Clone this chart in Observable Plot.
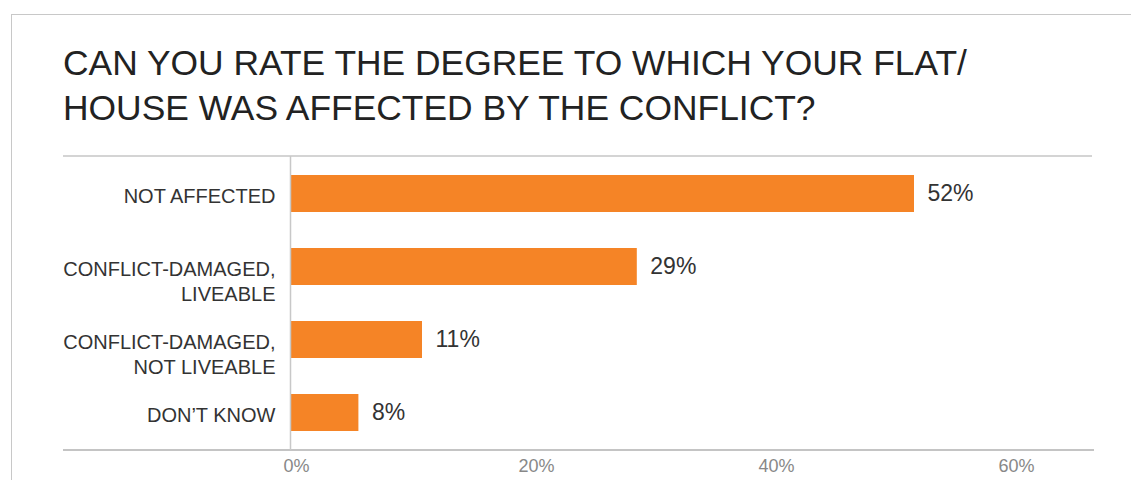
<!DOCTYPE html>
<html>
<head>
<meta charset="utf-8">
<script src="https://cdn.jsdelivr.net/npm/d3@7"></script>
<script src="https://cdn.jsdelivr.net/npm/@observablehq/plot@0.6"></script>
<style>
  html, body { margin: 0; padding: 0; background: #fff; width: 1131px; height: 480px; overflow: hidden; }
  body { position: relative; font-family: "Liberation Sans", Arial, sans-serif; }
  #frame { position: absolute; left: 11px; top: 14px; right: -10px; bottom: -10px; border-left: 1.5px solid #c8c8c8; border-top: 1.5px solid #c8c8c8; }
  #title { position: absolute; left: 63px; top: 41px; font-size: 35.4px; line-height: 45px; color: #222; font-weight: 300; margin: 0; white-space: nowrap; }
  .hr { position: absolute; height: 0; border-top: 2px solid #d4d4d4; }
  #chart { position: absolute; left: 0; top: 140px; }
</style>
</head>
<body>
<div id="frame"></div>
<h1 id="title">CAN YOU RATE THE DEGREE TO WHICH YOUR FLAT/<br>HOUSE WAS AFFECTED BY THE CONFLICT?</h1>
<div class="hr" style="left:63px; width:1029px; top:155px;"></div>
<div class="hr" style="left:63px; width:1031px; top:449px; border-top-color:#c4c4c4;"></div>
<div id="chart"></div>
<script>
const categories = ["NOT AFFECTED", "CONFLICT-DAMAGED,\nLIVEABLE", "CONFLICT-DAMAGED,\nNOT LIVEABLE", "DON\u2019T KNOW"];
const values = [52, 28.9, 11, 5.7];
const valueLabels = ["52%", "29%", "11%", "8%"];
const xTicks = [0, 20, 40, 60];

const data = categories.map((c, i) => ({cat: c, value: values[i], label: valueLabels[i]}));
const font = "'Liberation Sans', Arial, sans-serif";

const chart = Plot.plot({
  width: 1131,
  height: 340,
  marginLeft: 290,
  marginRight: 40,
  marginTop: 16,
  marginBottom: 30,
  style: {fontFamily: font, background: "transparent", overflow: "visible"},
  x: {domain: [0, 66.75]},
  y: {domain: categories, paddingInner: 0.5, paddingOuter: 0.25, axis: null},
  marks: [
    Plot.barX(data, {x: "value", y: "cat", fill: "#f58426"}),
    Plot.ruleX([0], {stroke: "#c8c8c8", strokeWidth: 1.5}),
    Plot.text(data, {x: 0, y: "cat", text: "cat", textAnchor: "end", dx: -15, dy: -9, lineAnchor: "top", lineHeight: 1.25, fontSize: 20, fill: "#333"}),
    Plot.text(data, {x: "value", y: "cat", text: "label", textAnchor: "start", dx: 13, fontSize: 23, fill: "#333"}),
    Plot.axisX(xTicks, {tickSize: 0, tickPadding: 9, tickFormat: d => d + "%", fill: "#888", fontSize: 18, dx: 6, label: null})
  ]
});
document.getElementById("chart").appendChild(chart);
</script>
</body>
</html>
